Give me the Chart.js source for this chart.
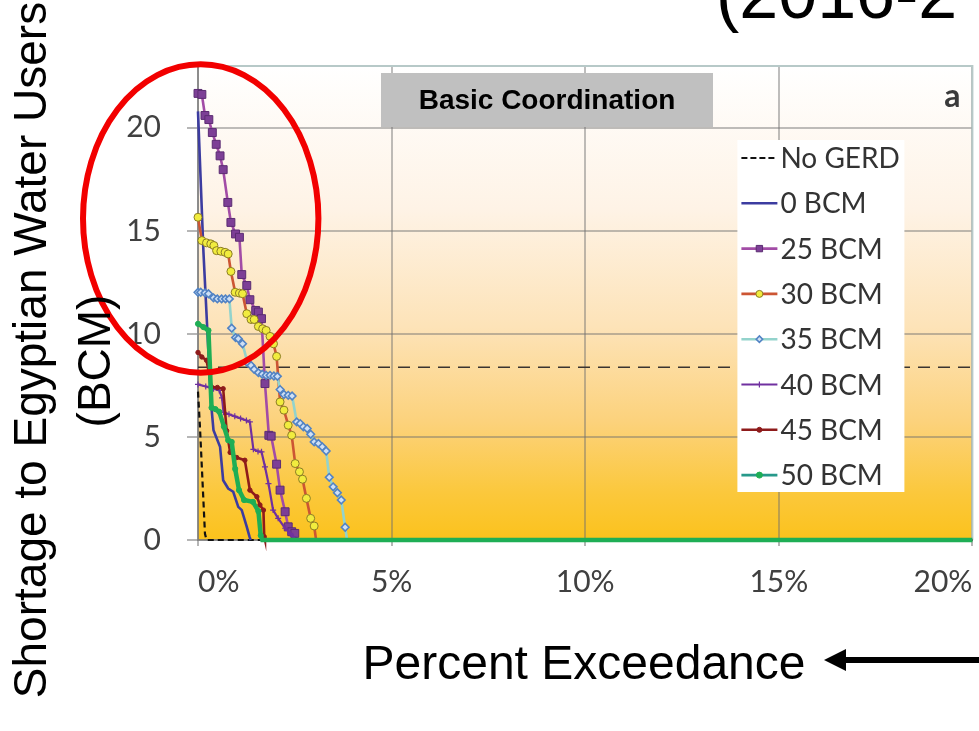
<!DOCTYPE html>
<html>
<head>
<meta charset="utf-8">
<script src="https://cdn.jsdelivr.net/npm/chart.js@4.4.1/dist/chart.umd.min.js"></script>
<style>
  html, body { margin: 0; padding: 0; background: #ffffff; overflow: hidden; }
  canvas { display: block; }
</style>
</head>
<body>
<canvas id="chart" width="979" height="731"></canvas>
<script>
// Axis ticks (percent exceedance, shortage in BCM)
const xTicks = [0, 5, 10, 15, 20];
const yTicks = [0, 5, 10, 15, 20];
const seriesNames = ['No GERD', '0 BCM', '25 BCM', '30 BCM', '35 BCM', '40 BCM', '45 BCM', '50 BCM'];

// Exceedance curves: x = percent exceedance, y = shortage (BCM)
const noGerdPct   = [0, 0.05, 0.1, 0.15, 0.18, 0.22, 20];
const noGerdShort = [7.2, 5.5, 3.5, 1.5, 0.3, 0, 0];

const bcm0Pct   = [0, 0.14, 0.33, 0.4, 0.57, 0.65, 0.78, 0.91, 1.04, 1.13, 1.26, 1.33, 1.36];
const bcm0Short = [20.8, 14.0, 6.8, 5.33, 4.52, 2.9, 2.5, 2.34, 1.61, 1.45, 0.64, 0.16, 0];

const bcm25Pct   = [0, 0.1, 0.18, 0.28, 0.37, 0.47, 0.57, 0.65, 0.77, 0.85, 0.97, 1.07, 1.13, 1.26, 1.34, 1.49, 1.56, 1.64, 1.73, 1.83, 1.89, 2.03, 2.12, 2.25, 2.33, 2.42, 2.5, 2.55];
const bcm25Short = [21.67, 21.62, 20.6, 20.4, 19.77, 19.2, 18.64, 17.97, 16.38, 15.41, 14.85, 14.69, 12.88, 12.35, 11.66, 11.14, 11.06, 10.74, 7.59, 5.08, 5.04, 3.68, 2.42, 1.37, 0.64, 0.40, 0.32, 0];

const bcm30Pct   = [0, 0.1, 0.22, 0.33, 0.41, 0.48, 0.59, 0.70, 0.78, 0.85, 0.96, 1.07, 1.15, 1.26, 1.37, 1.45, 1.56, 1.67, 1.76, 1.86, 1.95, 2.03, 2.12, 2.22, 2.33, 2.42, 2.51, 2.62, 2.70, 2.80, 2.91, 3.0, 3.05];
const bcm30Short = [15.66, 14.53, 14.42, 14.37, 14.29, 14.04, 14.01, 13.96, 13.88, 13.03, 12.02, 11.98, 11.95, 10.98, 10.70, 10.70, 10.36, 10.25, 10.17, 9.88, 9.52, 8.91, 6.70, 6.30, 5.57, 5.08, 3.71, 3.31, 2.95, 2.02, 1.05, 0.68, 0];

const bcm35Pct   = [0, 0.07, 0.18, 0.27, 0.4, 0.5, 0.61, 0.71, 0.81, 0.87, 0.97, 1.04, 1.15, 1.28, 1.37, 1.45, 1.56, 1.66, 1.76, 1.86, 1.96, 2.05, 2.12, 2.22, 2.33, 2.43, 2.55, 2.64, 2.72, 2.82, 2.91, 3.0, 3.11, 3.21, 3.31, 3.39, 3.49, 3.6, 3.7, 3.8, 3.85];
const bcm35Short = [12.02, 12.02, 11.99, 11.95, 11.75, 11.70, 11.70, 11.70, 11.70, 10.28, 9.82, 9.77, 9.52, 8.60, 8.47, 8.28, 8.12, 8.04, 7.99, 7.99, 7.96, 7.94, 7.30, 7.06, 7.02, 6.99, 5.73, 5.65, 5.49, 5.41, 5.13, 4.76, 4.68, 4.52, 4.32, 3.04, 2.58, 2.29, 1.94, 0.62, 0];

const bcm40Pct   = [0, 0.2, 0.4, 0.55, 0.62, 0.66, 0.8, 0.95, 1.1, 1.25, 1.34, 1.43, 1.55, 1.64, 1.73, 1.82, 1.94, 2.07, 2.25, 2.38, 2.46, 2.5];
const bcm40Short = [7.55, 7.45, 7.34, 7.26, 6.9, 6.2, 6.1, 6.0, 5.9, 5.8, 5.73, 4.4, 4.3, 4.28, 3.55, 2.74, 1.45, 1.05, 0.57, 0.32, 0.16, 0];

const bcm45Pct   = [0, 0.1, 0.22, 0.35, 0.5, 0.65, 0.74, 0.83, 1.0, 1.21, 1.34, 1.52, 1.6, 1.69, 1.71, 1.73];
const bcm45Short = [9.1, 8.88, 8.72, 7.42, 7.4, 7.34, 5.3, 4.25, 4.0, 3.87, 2.42, 2.1, 1.7, 1.45, 0.16, 0];

const bcm50Pct   = [0, 0.14, 0.27, 0.35, 0.45, 0.55, 0.67, 0.78, 0.87, 0.96, 1.06, 1.19, 1.42, 1.56, 1.62, 1.66, 20];
const bcm50Short = [10.49, 10.33, 10.17, 6.42, 6.35, 6.22, 5.5, 4.84, 4.76, 3.45, 2.42, 1.94, 1.85, 1.4, 0.22, 0, 0];

// Dashed reference level across the whole range
const refPct   = [0, 20];
const refShort = [8.38, 8.38];

// Highlight ring around the high-shortage tail (data units)
const ringCenter = { pct: 0.07, bcm: 15.6 };
const ringRadius = { pct: 3.04, bcm: 7.48 };

const tickFont = 'Lato, "Open Sans", sans-serif';
const titleFont = '"Liberation Sans", Arial, sans-serif';

function pairs(xs, ys) { return xs.map((x, i) => ({ x: x, y: ys[i] })); }
function markerRadius(r) { return ctx => (ctx.raw && ctx.raw.y > 0 ? r : 0); }

function makeSeries(label, xs, ys, style) {
  return Object.assign({
    label: label, data: pairs(xs, ys), showLine: true, fill: false,
    tension: 0, clip: false, pointRadius: 0, pointHoverRadius: 0
  }, style);
}

const datasets = [
  makeSeries('No GERD', noGerdPct, noGerdShort, {
    borderColor: '#111111', borderWidth: 2.2, borderDash: [6, 4], order: 7, inLegend: true
  }),
  makeSeries('0 BCM', bcm0Pct, bcm0Short, {
    borderColor: '#3c3ca0', borderWidth: 2.6, order: 6, inLegend: true
  }),
  makeSeries('25 BCM', bcm25Pct, bcm25Short, {
    borderColor: '#a24ca6', borderWidth: 2.6, order: 5, inLegend: true,
    pointStyle: 'rect', pointRadius: markerRadius(5.6), pointBackgroundColor: '#7d3f96',
    pointBorderColor: '#5b2c72', pointBorderWidth: 1, legendRadius: 4.5
  }),
  makeSeries('30 BCM', bcm30Pct, bcm30Short, {
    borderColor: '#cc5533', borderWidth: 2.6, order: 4, inLegend: true,
    pointStyle: 'circle', pointRadius: markerRadius(4), pointBackgroundColor: '#f1ec3e',
    pointBorderColor: '#8c7d25', pointBorderWidth: 1, legendRadius: 3.5
  }),
  makeSeries('35 BCM', bcm35Pct, bcm35Short, {
    borderColor: '#93d3cc', borderWidth: 2.6, order: 3, inLegend: true,
    pointStyle: 'rectRot', pointRadius: markerRadius(3.8), pointBackgroundColor: '#cfe0f5',
    pointBorderColor: '#5283c4', pointBorderWidth: 1.6, legendRadius: 3.2
  }),
  makeSeries('40 BCM', bcm40Pct, bcm40Short, {
    borderColor: '#7030a0', borderWidth: 2.2, order: 2, inLegend: true,
    pointStyle: 'cross', pointRadius: markerRadius(3), pointBorderColor: '#7030a0',
    pointBorderWidth: 1.2, legendRadius: 3
  }),
  makeSeries('45 BCM', bcm45Pct, bcm45Short, {
    borderColor: '#8e1b1b', borderWidth: 2.6, order: 1, inLegend: true,
    pointStyle: 'circle', pointRadius: markerRadius(2.2), pointBackgroundColor: '#8e1b1b',
    pointBorderColor: '#8e1b1b', pointBorderWidth: 1, legendRadius: 2.5
  }),
  makeSeries('50 BCM', bcm50Pct, bcm50Short, {
    borderColor: '#1fae55', borderWidth: 4.5, order: 0, inLegend: true,
    pointStyle: 'circle', pointRadius: markerRadius(2.6), pointBackgroundColor: '#1fae55',
    pointBorderColor: '#1fae55', pointBorderWidth: 1, legendRadius: 3, legendLine: '#27998a'
  }),
  makeSeries('reference', refPct, refShort, {
    borderColor: '#3a3430', borderWidth: 1.6, borderDash: [12, 8], order: 8, inLegend: false
  })
];

// Background gradient, frame, legend, labels and the highlight ring
const decorations = {
  id: 'decorations',
  beforeDraw(chart) {
    const { ctx, chartArea: a } = chart;
    ctx.save();
    ctx.fillStyle = '#ffffff';
    ctx.fillRect(0, 0, chart.width, chart.height);
    const g = ctx.createLinearGradient(0, a.top, 0, a.bottom);
    g.addColorStop(0.0, '#ffffff');
    g.addColorStop(0.3, '#fef3e6');
    g.addColorStop(0.55, '#fde3b8');
    g.addColorStop(0.75, '#fcd27c');
    g.addColorStop(0.9, '#fbc83c');
    g.addColorStop(1.0, '#fbc21c');
    ctx.fillStyle = g;
    ctx.fillRect(a.left, a.top, a.right - a.left, a.bottom - a.top);
    ctx.restore();
  },
  beforeDatasetsDraw(chart) {
    const { ctx, chartArea: a } = chart;
    ctx.save();
    ctx.strokeStyle = '#b7c9c8';
    ctx.lineWidth = 2;
    ctx.beginPath();
    ctx.moveTo(a.left, a.top);
    ctx.lineTo(a.right, a.top);
    ctx.lineTo(a.right, a.bottom);
    ctx.stroke();

    // panel caption box
    ctx.fillStyle = '#c0c0c0';
    ctx.fillRect(a.left + 183, a.top + 7, 332, 54);
    ctx.fillStyle = '#000000';
    ctx.font = 'bold 28px ' + titleFont;
    ctx.textAlign = 'center';
    ctx.textBaseline = 'middle';
    ctx.fillText('Basic Coordination', a.left + 349, a.top + 35);

    ctx.fillStyle = '#3a3a3a';
    ctx.font = 'bold 32px ' + tickFont;
    ctx.textAlign = 'right';
    ctx.textBaseline = 'alphabetic';
    ctx.fillText('a', a.right - 12, a.top + 41);
    ctx.restore();
  },
  afterDraw(chart) {
    const { ctx, chartArea: a, scales } = chart;
    const xs = scales.x, ys = scales.y;
    ctx.save();

    // legend box
    const lx = a.right - 235, ly = a.top + 74, lw = 167, lh = 352;
    ctx.fillStyle = '#ffffff';
    ctx.fillRect(lx, ly, lw, lh);
    const items = chart.data.datasets.filter(d => d.inLegend);
    items.forEach((d, i) => {
      const y = ly + 18 + i * 45.3;
      ctx.save();
      ctx.strokeStyle = d.legendLine || d.borderColor;
      ctx.lineWidth = Math.min(d.borderWidth, 2.6);
      ctx.setLineDash(d.borderDash ? [6, 3] : []);
      ctx.beginPath();
      ctx.moveTo(lx + 4, y);
      ctx.lineTo(lx + 40, y);
      ctx.stroke();
      ctx.restore();
      if (d.legendRadius) {
        ctx.save();
        ctx.fillStyle = d.pointBackgroundColor || d.borderColor;
        ctx.strokeStyle = d.pointBorderColor || d.borderColor;
        ctx.lineWidth = d.pointBorderWidth || 1;
        Chart.helpers.drawPoint(ctx, {
          pointStyle: d.pointStyle, radius: d.legendRadius, rotation: 0, borderWidth: d.pointBorderWidth || 1
        }, lx + 22, y);
        ctx.restore();
      }
      ctx.fillStyle = '#333333';
      ctx.font = '28px ' + tickFont;
      ctx.textAlign = 'left';
      ctx.textBaseline = 'middle';
      ctx.fillText(d.label, lx + 43, y + 1);
    });

    // highlight ring
    const cx = xs.getPixelForValue(ringCenter.pct);
    const cy = ys.getPixelForValue(ringCenter.bcm);
    const rx = xs.getPixelForValue(ringCenter.pct + ringRadius.pct) - cx;
    const ry = cy - ys.getPixelForValue(ringCenter.bcm + ringRadius.bcm);
    ctx.strokeStyle = '#f20000';
    ctx.lineWidth = 6;
    ctx.beginPath();
    ctx.ellipse(cx, cy, rx, ry, 0, 0, Math.PI * 2);
    ctx.stroke();

    // axis titles
    ctx.fillStyle = '#000000';
    ctx.font = '48px ' + titleFont;
    ctx.textAlign = 'center';
    ctx.textBaseline = 'alphabetic';
    ctx.fillText('Percent Exceedance', 584, 679);

    ctx.save();
    ctx.font = '46px ' + titleFont;
    ctx.translate(46, 350);
    ctx.rotate(-Math.PI / 2);
    ctx.fillText('Shortage to Egyptian Water Users', 0, 0);
    ctx.restore();
    ctx.save();
    ctx.font = '46px ' + titleFont;
    ctx.translate(110, 361);
    ctx.rotate(-Math.PI / 2);
    ctx.fillText('(BCM)', 0, 0);
    ctx.restore();

    // arrow pointing toward the axis title
    ctx.strokeStyle = '#000000';
    ctx.lineWidth = 6;
    ctx.beginPath();
    ctx.moveTo(979, 660);
    ctx.lineTo(840, 660);
    ctx.stroke();
    ctx.beginPath();
    ctx.moveTo(824, 660);
    ctx.lineTo(846, 649);
    ctx.lineTo(846, 671);
    ctx.closePath();
    ctx.fill();

    // period heading (runs off the top edge)
    ctx.font = '70px ' + titleFont;
    ctx.textAlign = 'left';
    ctx.fillText('(2016-2', 716, 18);
    ctx.restore();
  }
};

function build() {
  new Chart(document.getElementById('chart'), {
    type: 'scatter',
    data: { datasets: datasets },
    plugins: [decorations],
    options: {
      responsive: false,
      animation: false,
      devicePixelRatio: 1,
      layout: { padding: { top: 66, right: 6, left: 0, bottom: 0 } },
      plugins: { legend: { display: false }, tooltip: { enabled: false } },
      scales: {
        x: {
          type: 'linear', min: 0, max: 20,
          afterBuildTicks: s => { s.ticks = xTicks.map(v => ({ value: v })); },
          afterFit: s => { s.height = 191; s.paddingLeft = 0; s.paddingRight = 0; },
          ticks: {
            callback: v => v + '%', align: 'inner', color: '#404040',
            font: { family: tickFont, size: 30 }, padding: 18, maxRotation: 0
          },
          grid: { color: 'rgba(110,110,110,0.45)', lineWidth: 2, tickLength: 6, tickColor: 'rgba(110,110,110,0.5)' },
          border: { display: true, color: 'rgba(120,120,120,0.7)', width: 2 }
        },
        y: {
          type: 'linear', min: 0, max: 23,
          afterBuildTicks: s => { s.ticks = yTicks.map(v => ({ value: v })); },
          afterFit: s => { s.width = 198; },
          ticks: {
            color: '#404040', font: { family: tickFont, size: 30 }, padding: 26
          },
          grid: { color: 'rgba(110,110,110,0.45)', lineWidth: 2, tickLength: 11, tickColor: 'rgba(110,110,110,0.5)' },
          border: { display: true, color: 'rgba(120,120,120,0.7)', width: 2 }
        }
      }
    }
  });
}

const fontLoads = [
  '30px Lato', 'bold 32px Lato', '28px Lato',
  '48px "Liberation Sans"', 'bold 28px "Liberation Sans"'
].map(f => document.fonts.load(f).catch(() => null));
Promise.all(fontLoads).then(build, build);
</script>
</body>
</html>
